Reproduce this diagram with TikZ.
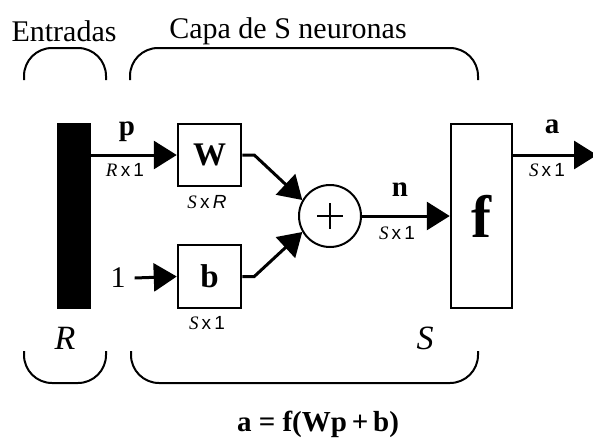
\documentclass[tikz,border=0pt]{standalone}
\usepackage{fontspec}
\setmainfont{Liberation Serif}
\newfontfamily\labsans{Liberation Sans}
\usetikzlibrary{arrows.meta}
\newcommand{\dimlab}[2]{\textit{#1}\,{\labsans x\,#2}}
\begin{document}
\begin{tikzpicture}[x=1pt,y=-1pt,
  box/.style={draw,line width=2.5pt,inner sep=0pt},
  arr/.style={line width=3pt,-{Triangle[length=23pt,width=28pt]}},
  brace/.style={line width=2pt,rounded corners=28pt},
  sub/.style={font=\fontsize{19}{19}\selectfont,inner sep=0pt},
  big/.style={font=\fontsize{33}{33}\selectfont\bfseries,inner sep=0pt},
  lbl/.style={font=\fontsize{29}{29}\selectfont\bfseries,inner sep=0pt},
  head/.style={font=\fontsize{30}{30}\selectfont,inner sep=0pt}]
\useasboundingbox (0,0) rectangle (593,442);
% headings
\node[head] (ent) at (64,31) {Entradas};
\node[head] (capa) at (288,31) {Capa de S neuronas};
% braces
\draw[brace] (24,80) -- (24,48) -- (106,48) -- (106,80);
\draw[brace] (130,80) -- (130,48) -- (478,48) -- (478,80);
\draw[brace] (24,351) -- (24,383) -- (106,383) -- (106,351);
\draw[brace] (131,351) -- (131,383) -- (478,383) -- (478,351);
% blocks
\node[fill=black,minimum width=34pt,minimum height=186pt,inner sep=0pt] (bar) at (74,216) {};
\node[box,minimum width=63pt,minimum height=62pt,big] (W) at (209.5,155) {W};
\node[box,minimum width=63pt,minimum height=63pt,big] (b) at (209.5,276.5) {b};
\node[draw,circle,line width=2pt,minimum size=62pt,inner sep=0pt] (sum) at (330,216) {};
\draw[line width=2pt] (317,216) -- (343,216) (330,203) -- (330,229);
\node[box,minimum width=61pt,minimum height=184pt,font=\fontsize{60}{60}\selectfont\bfseries] (f) at (481.5,216) {f};
\node[font=\fontsize{30}{30}\selectfont,inner sep=1pt] (one) at (118,278) {1};
\coordinate (aend) at (597,155);
% connectors
\draw[arr] (bar.east |- W.west) -- (W.west);
\draw[arr] (one.east) ++(8,0) -- (b.west);
\draw[arr] (W.east) -- ++(12,0) -- (sum.150);
\draw[arr] (b.east) -- ++(12,0) -- (sum.210);
\draw[arr] (sum.east) -- (f.west);
\draw[arr] (f.east |- aend) -- (aend);
% labels
\node[lbl] (lp) at (127,132) {p};
\node[sub] (lrx) at (125,170) {\dimlab{R}{1}};
\node[sub] (lsr) at (207,202) {\dimlab{S}{\textit{R}}};
\node[sub] (lsb) at (207,323) {\dimlab{S}{1}};
\node[lbl] (ln) at (400,190) {n};
\node[sub] (lsn) at (397,233) {\dimlab{S}{1}};
\node[lbl] (la) at (552,127) {a};
\node[sub] (lsa) at (547,170) {\dimlab{S}{1}};
\node[font=\fontsize{34}{34}\selectfont\itshape,inner sep=0pt] (lR) at (65,338) {R};
\node[font=\fontsize{34}{34}\selectfont\itshape,inner sep=0pt] (lS) at (425,338) {S};
\node[font=\fontsize{29}{29}\selectfont\bfseries,inner sep=0pt] (eq) at (318,424) {a = f(Wp\,+\,b)};
\end{tikzpicture}
\end{document}
